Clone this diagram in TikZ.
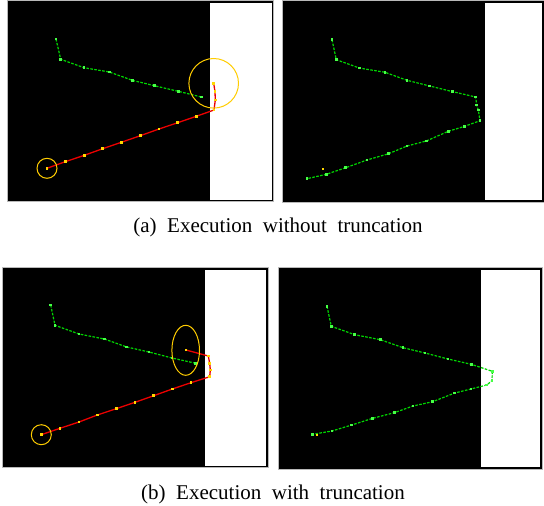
\documentclass[tikz,border=0pt]{standalone}
\usepackage{fontspec}
\setmainfont{Liberation Serif}
\usetikzlibrary{plotmarks}
\definecolor{pathgreen}{RGB}{0,215,0}
\definecolor{ptgreen}{RGB}{70,255,70}
\definecolor{pathred}{RGB}{235,0,0}
\definecolor{ptyellow}{RGB}{255,215,0}
\definecolor{ringgold}{RGB}{255,205,0}
\definecolor{framegray}{RGB}{185,185,185}
\tikzset{
  scene/.style={fill=black, draw=framegray, line width=0.8pt},
  wall/.style={fill=white, draw=none},
  greenpath/.style={draw=pathgreen, line width=1.2pt, dash pattern=on 2.6pt off 1.4pt,
    mark=square*, mark size=0.8pt, mark options={solid, fill=ptgreen, draw=ptgreen}},
  redpath/.style={draw=pathred, line width=1.3pt,
    mark=square*, mark size=0.75pt, mark options={fill=ptyellow, draw=ptyellow}},
  ring/.style={draw=ringgold, line width=1pt},
  caption/.style={font=\fontsize{21}{24}\selectfont, anchor=base, inner sep=0pt}
}
\begin{document}
\begin{tikzpicture}[x=1pt,y=-1pt]
\useasboundingbox (0,0) rectangle (544,506);

% ---------- (a) left: planned route without truncation ----------
\fill[scene] (7,0.5) rectangle (273.3,201.5);
\fill[wall] (210,3) rectangle (271.7,200);
\draw[greenpath] plot coordinates {(56,39) (60.7,59.3) (84,67.7) (109.3,72) (132.3,80.3) (154.3,85.7) (178.3,91.3) (201.3,97)};
\draw[redpath] plot coordinates {(47,168.3) (65.3,161.7) (84.3,155.3) (102.7,148.7) (121.3,142.3) (140.3,135.7) (159,129) (177.7,122.7) (196.3,116.3) (214,110) (215.3,100) (215,91.7) (213.7,83.3)};
\draw[ring] (47,168.3) circle[radius=10];
\draw[ring] (213.7,83.3) circle[radius=24.8];

% ---------- (a) right: executed route ----------
\fill[scene] (282.5,0.5) rectangle (544,202.5);
\fill[wall] (485.3,3) rectangle (542,200);
\draw[greenpath] plot coordinates {(332,39.7) (336.3,59.7) (359.3,68) (385,72.3) (407,80.3) (429.7,86) (452.7,91.7) (475.7,97) (476.7,105) (478.3,110) (480,120.7) (464.7,126.3) (448.3,131.3) (426.3,141) (407,146) (388.7,153.7) (367,160) (345.7,167.7) (326.3,174.3) (307,178.7)};
\fill[ptyellow] (321.5,167.5) rectangle +(2,2);

% ---------- (b) left: planned route with truncation ----------
\fill[scene] (2.7,267.3) rectangle (268.3,467.5);
\fill[wall] (205,270) rectangle (266,466);
\draw[greenpath] plot coordinates {(50.7,305) (55,325.3) (79,334) (104.3,339) (126.7,347) (149,352) (172,358) (195.7,363.3)};
\draw[redpath] plot coordinates {(41.3,434.7) (60,428.3) (79,422) (97.3,415) (116.3,408.7) (135,402.3) (153.7,395.7) (172.3,389) (191,382.7) (209.7,376.7) (210.3,370) (209.7,363.3) (208.3,356) (186,350)};
\draw[ring] (41.3,434.7) circle[radius=10];
\draw[ring] (185.7,350.3) ellipse[x radius=13.8, y radius=25];

% ---------- (b) right: executed route ----------
\fill[scene] (278.3,267.3) rectangle (542,469);
\fill[wall] (481.3,270) rectangle (540,467);
\draw[greenpath] plot coordinates {(327,306.3) (331.3,326.3) (354.7,334.7) (380.3,339.7) (403,347.7) (425,353) (448,359) (471.3,364.3) (492.3,371.3) (492,380.7) (486.7,385) (471,389) (454.7,393) (432.7,401.7) (413,406) (394.3,412.7) (372.7,418.3) (351.7,425) (332,431) (312.7,434.3)};
\fill[ptyellow] (316.2,433.8) rectangle +(2,2);

% ---------- captions ----------
\node[caption] (capA) at (278,232) {(a)\ \ Execution\ \ without\ \ truncation};
\node[caption] (capB) at (273,499) {(b)\ \ Execution\ \ with\ \ truncation};
\end{tikzpicture}
\end{document}
